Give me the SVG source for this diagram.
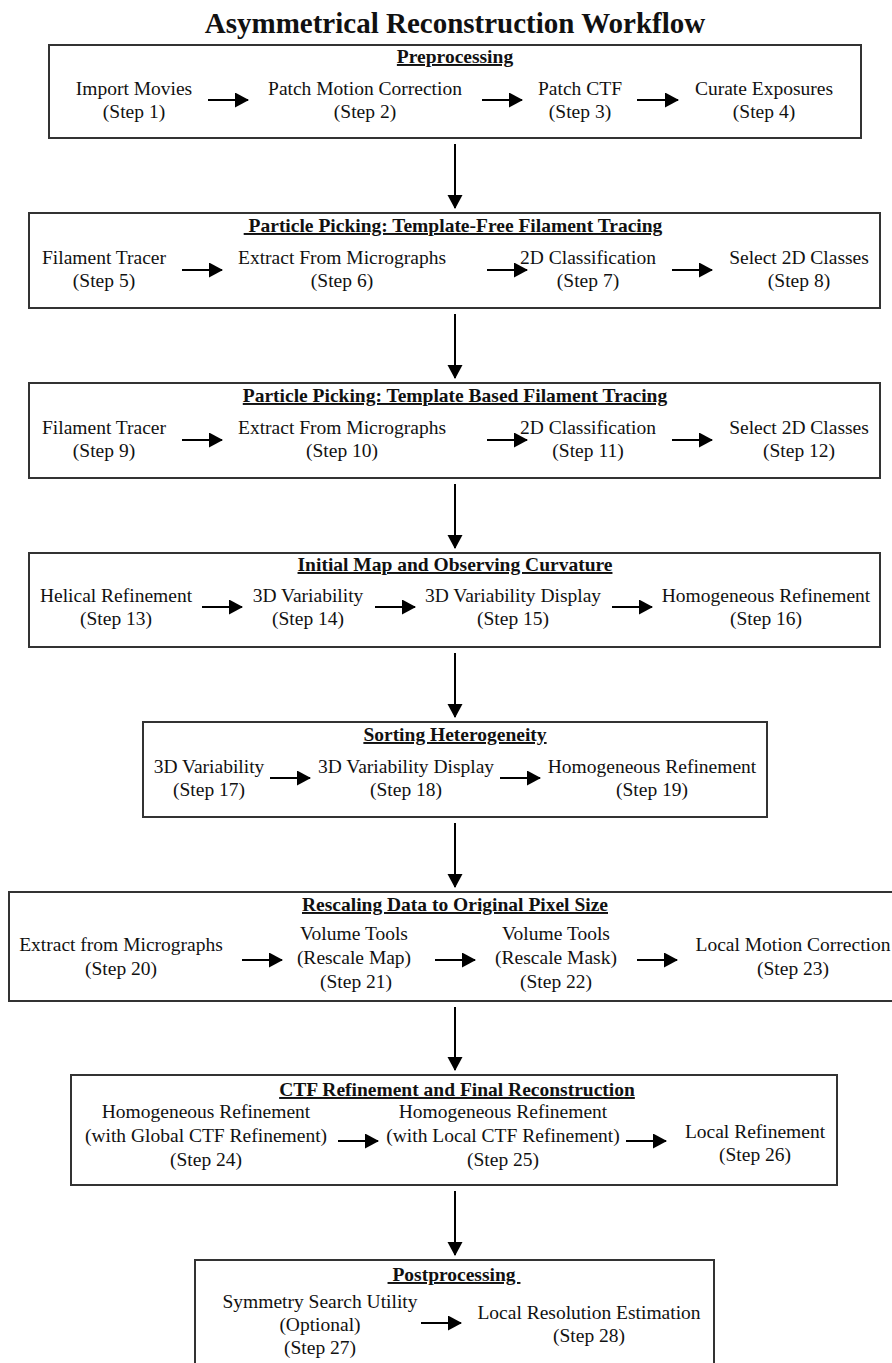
<svg xmlns="http://www.w3.org/2000/svg" width="892" height="1363" viewBox="0 0 892 1363">
<style>
text{font-family:"Liberation Serif","Times New Roman",serif;fill:#111;text-anchor:middle}
.t{font-size:29px;font-weight:bold}
.h{font-size:19.5px;font-weight:bold;text-decoration:underline}
.l{font-size:19.5px}
.box{fill:#fff;stroke:#333;stroke-width:2}
.c{stroke:#000;stroke-width:2;fill:none}
</style>
<defs>
<marker id="ah" markerUnits="userSpaceOnUse" markerWidth="14" markerHeight="16" refX="13" refY="7.5" orient="auto">
<path d="M0,0 L14,7.5 L0,15 z" fill="#000"/>
</marker>
</defs>
<rect width="892" height="1363" fill="#fff"/>
<text class="t" x="455" y="33">Asymmetrical Reconstruction Workflow</text>

<g id="box1">
<rect class="box" x="49" y="45" width="812" height="93"/>
<text class="h" x="455" y="63">Preprocessing</text>
<text class="l" x="134" y="95">Import Movies</text><text class="l" x="134" y="118">(Step 1)</text>
<text class="l" x="365" y="95">Patch Motion Correction</text><text class="l" x="365" y="118">(Step 2)</text>
<text class="l" x="580" y="95">Patch CTF</text><text class="l" x="580" y="118">(Step 3)</text>
<text class="l" x="764" y="95">Curate Exposures</text><text class="l" x="764" y="118">(Step 4)</text>
</g>

<g id="box2">
<rect class="box" x="29" y="213" width="851" height="95"/>
<text class="h" x="453" y="232" xml:space="preserve"> Particle Picking: Template-Free Filament Tracing</text>
<text class="l" x="104" y="264">Filament Tracer</text><text class="l" x="104" y="287">(Step 5)</text>
<text class="l" x="342" y="264">Extract From Micrographs</text><text class="l" x="342" y="287">(Step 6)</text>
<text class="l" x="588" y="264">2D Classification</text><text class="l" x="588" y="287">(Step 7)</text>
<text class="l" x="799" y="264">Select 2D Classes</text><text class="l" x="799" y="287">(Step 8)</text>
</g>

<g id="box3">
<rect class="box" x="29" y="383" width="851" height="95"/>
<text class="h" x="455" y="402">Particle Picking: Template Based Filament Tracing</text>
<text class="l" x="104" y="434">Filament Tracer</text><text class="l" x="104" y="457">(Step 9)</text>
<text class="l" x="342" y="434">Extract From Micrographs</text><text class="l" x="342" y="457">(Step 10)</text>
<text class="l" x="588" y="434">2D Classification</text><text class="l" x="588" y="457">(Step 11)</text>
<text class="l" x="799" y="434">Select 2D Classes</text><text class="l" x="799" y="457">(Step 12)</text>
</g>

<g id="box4">
<rect class="box" x="29" y="553" width="851" height="94"/>
<text class="h" x="455" y="571">Initial Map and Observing Curvature</text>
<text class="l" x="116" y="602">Helical Refinement</text><text class="l" x="116" y="625">(Step 13)</text>
<text class="l" x="308" y="602">3D Variability</text><text class="l" x="308" y="625">(Step 14)</text>
<text class="l" x="513" y="602">3D Variability Display</text><text class="l" x="513" y="625">(Step 15)</text>
<text class="l" x="766" y="602">Homogeneous Refinement</text><text class="l" x="766" y="625">(Step 16)</text>
</g>

<g id="box5">
<rect class="box" x="143" y="722" width="624" height="95"/>
<text class="h" x="455" y="741">Sorting Heterogeneity</text>
<text class="l" x="209" y="773">3D Variability</text><text class="l" x="209" y="796">(Step 17)</text>
<text class="l" x="406" y="773">3D Variability Display</text><text class="l" x="406" y="796">(Step 18)</text>
<text class="l" x="652" y="773">Homogeneous Refinement</text><text class="l" x="652" y="796">(Step 19)</text>
</g>

<g id="box6">
<rect class="box" x="9" y="892" width="900" height="109"/>
<text class="h" x="455" y="911">Rescaling Data to Original Pixel Size</text>
<text class="l" x="121" y="951">Extract from Micrographs</text><text class="l" x="121" y="975">(Step 20)</text>
<text class="l" x="354" y="940">Volume Tools</text><text class="l" x="354" y="964">(Rescale Map)</text><text class="l" x="356" y="988">(Step 21)</text>
<text class="l" x="556" y="940">Volume Tools</text><text class="l" x="556" y="964">(Rescale Mask)</text><text class="l" x="556" y="988">(Step 22)</text>
<text class="l" x="793" y="951">Local Motion Correction</text><text class="l" x="793" y="975">(Step 23)</text>
</g>

<g id="box7">
<rect class="box" x="71" y="1075" width="766" height="110"/>
<text class="h" x="457" y="1096">CTF Refinement and Final Reconstruction</text>
<text class="l" x="206" y="1118">Homogeneous Refinement</text><text class="l" x="206" y="1142">(with Global CTF Refinement)</text><text class="l" x="206" y="1166">(Step 24)</text>
<text class="l" x="503" y="1118">Homogeneous Refinement</text><text class="l" x="503" y="1142">(with Local CTF Refinement)</text><text class="l" x="503" y="1166">(Step 25)</text>
<text class="l" x="755" y="1138">Local Refinement</text><text class="l" x="755" y="1161">(Step 26)</text>
</g>

<g id="box8">
<rect class="box" x="195" y="1260" width="519" height="120"/>
<text class="h" x="454" y="1281" xml:space="preserve"> Postprocessing </text>
<text class="l" x="320" y="1308">Symmetry Search Utility</text><text class="l" x="320" y="1331">(Optional)</text><text class="l" x="320" y="1354">(Step 27)</text>
<text class="l" x="589" y="1319">Local Resolution Estimation</text><text class="l" x="589" y="1342">(Step 28)</text>
</g>

<g id="connectors">
<line class="c" x1="208" y1="100" x2="248" y2="100" marker-end="url(#ah)"/>
<line class="c" x1="482" y1="100" x2="522" y2="100" marker-end="url(#ah)"/>
<line class="c" x1="637" y1="100" x2="678" y2="100" marker-end="url(#ah)"/>

<line class="c" x1="182" y1="270" x2="222" y2="270" marker-end="url(#ah)"/>
<line class="c" x1="487" y1="270" x2="527" y2="270" marker-end="url(#ah)"/>
<line class="c" x1="672" y1="270" x2="712" y2="270" marker-end="url(#ah)"/>

<line class="c" x1="182" y1="440" x2="222" y2="440" marker-end="url(#ah)"/>
<line class="c" x1="487" y1="440" x2="527" y2="440" marker-end="url(#ah)"/>
<line class="c" x1="672" y1="440" x2="712" y2="440" marker-end="url(#ah)"/>

<line class="c" x1="202" y1="607" x2="242" y2="607" marker-end="url(#ah)"/>
<line class="c" x1="375" y1="607" x2="415" y2="607" marker-end="url(#ah)"/>
<line class="c" x1="612" y1="607" x2="652" y2="607" marker-end="url(#ah)"/>

<line class="c" x1="270" y1="778" x2="310" y2="778" marker-end="url(#ah)"/>
<line class="c" x1="500" y1="778" x2="540" y2="778" marker-end="url(#ah)"/>

<line class="c" x1="242" y1="960" x2="282" y2="960" marker-end="url(#ah)"/>
<line class="c" x1="435" y1="960" x2="475" y2="960" marker-end="url(#ah)"/>
<line class="c" x1="637" y1="960" x2="677" y2="960" marker-end="url(#ah)"/>

<line class="c" x1="338" y1="1141" x2="378" y2="1141" marker-end="url(#ah)"/>
<line class="c" x1="626" y1="1141" x2="666" y2="1141" marker-end="url(#ah)"/>

<line class="c" x1="421" y1="1323" x2="461" y2="1323" marker-end="url(#ah)"/>

<line class="c" x1="455" y1="144" x2="455" y2="208" marker-end="url(#ah)"/>
<line class="c" x1="455" y1="314" x2="455" y2="378" marker-end="url(#ah)"/>
<line class="c" x1="455" y1="484" x2="455" y2="548" marker-end="url(#ah)"/>
<line class="c" x1="455" y1="653" x2="455" y2="717" marker-end="url(#ah)"/>
<line class="c" x1="455" y1="823" x2="455" y2="887" marker-end="url(#ah)"/>
<line class="c" x1="455" y1="1007" x2="455" y2="1070" marker-end="url(#ah)"/>
<line class="c" x1="455" y1="1191" x2="455" y2="1255" marker-end="url(#ah)"/>
</g>
</svg>
